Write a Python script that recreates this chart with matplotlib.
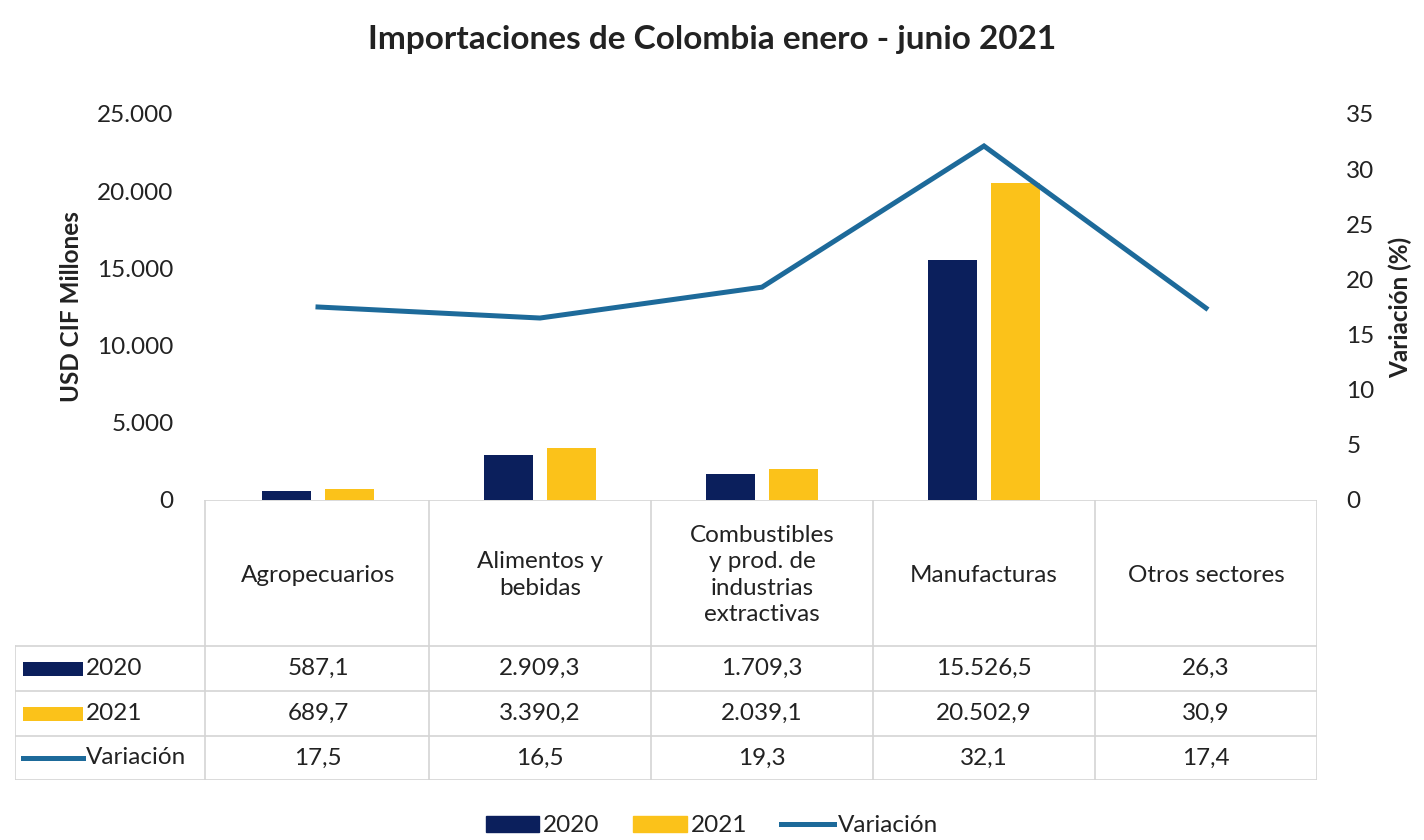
import numpy as np
import matplotlib.pyplot as plt
from matplotlib.patches import Patch, Rectangle
from matplotlib.lines import Line2D
from matplotlib.ticker import FuncFormatter, MultipleLocator

plt.rcParams['font.family'] = ['Lato', 'DejaVu Sans']

# data
sectores = ['Agropecuarios', 'Alimentos y\nbebidas',
            'Combustibles\ny prod. de\nindustrias\nextractivas',
            'Manufacturas', 'Otros sectores']
imp_2020 = [587.1, 2909.3, 1709.3, 15526.5, 26.3]
imp_2021 = [689.7, 3390.2, 2039.1, 20502.9, 30.9]
variacion = [17.5, 16.5, 19.3, 32.1, 17.4]

c2020 = '#0B1F5C'
c2021 = '#FBC21A'
cvar = '#1D6A9A'
grid_c = '#D4D4D4'
txt_c = '#222222'
fs = 17.5


def es_num(v, dec=1):
    s = f'{v:,.{dec}f}'
    return s.replace(',', '#').replace('.', ',').replace('#', '.')


W, H = 1424, 840
fig = plt.figure(figsize=(W / 100, H / 100), dpi=100)


def fx(px):
    return px / W


def fy(py):
    return 1 - py / H


# pixel layout
left, right, top, base = 207, 1317, 114, 500
ax = fig.add_axes([fx(left), fy(base), fx(right - left), (base - top) / H])
x = np.arange(len(sectores))
bw = 0.22
ax.bar(x - 0.142, imp_2020, bw, color=c2020, zorder=2)
ax.bar(x + 0.142, imp_2021, bw, color=c2021, zorder=2)
ax.set_xlim(-0.5, len(sectores) - 0.5)
ax.set_ylim(0, 25000)
ax.yaxis.set_major_locator(MultipleLocator(5000))
ax.yaxis.set_major_formatter(FuncFormatter(lambda v, p: es_num(v, 0)))
ax.set_xticks([])
for s in ['top', 'right', 'left', 'bottom']:
    ax.spines[s].set_visible(False)
ax.tick_params(axis='y', length=0, labelsize=fs, labelcolor=txt_c, pad=24)
ax.set_ylabel('USD CIF Millones', fontsize=fs, fontweight='bold', color=txt_c, labelpad=10)

ax2 = ax.twinx()
ax2.plot(x, variacion, color=cvar, lw=3.6, solid_joinstyle='miter', zorder=3)
ax2.set_ylim(0, 35)
ax2.yaxis.set_major_locator(MultipleLocator(5))
for s in ['top', 'right', 'left', 'bottom']:
    ax2.spines[s].set_visible(False)
ax2.tick_params(axis='y', length=0, labelsize=fs, labelcolor=txt_c, pad=21)
ax2.set_ylabel('Variación (%)', fontsize=fs, fontweight='bold', color=txt_c, labelpad=10)

# data table below the plot, x in category units, y in pixels
tleft = 15
cw = (right - left) / len(sectores)
tab = fig.add_axes([fx(tleft), fy(780), fx(right - tleft), (780 - base) / H])
tab.set_xlim(-0.5 - (left - tleft) / cw, len(sectores) - 0.5)
tab.set_ylim(780, base)
tab.axis('off')
x0 = -0.5 - (left - tleft) / cw
hdr_col = -0.5 - (left - 205) / cw
rows = [646, 691, 736, 780]
lk = dict(color=grid_c, lw=1.2)
tab.plot([hdr_col, len(sectores) - 0.5], [base, base], **lk)
for r in rows:
    tab.plot([x0, len(sectores) - 0.5], [r, r], **lk)
tab.plot([x0, x0], [rows[0], rows[-1]], **lk)
for i in range(len(sectores) + 1):
    xx = hdr_col if i == 0 else i - 0.5
    tab.plot([xx, xx], [base, rows[-1]], **lk)

for i, name in enumerate(sectores):
    tab.text(i, (base + rows[0]) / 2 + 2, name, ha='center', va='center',
             fontsize=fs, color=txt_c, linespacing=1.32)

series = [('2020', imp_2020), ('2021', imp_2021), ('Variación', variacion)]
key_w = (83 - 23) / cw
kx = x0 + (23 - tleft) / cw
for j, (lab, vals) in enumerate(series):
    yc = (rows[j] + rows[j + 1]) / 2
    for i, v in enumerate(vals):
        tab.text(i, yc, es_num(v), ha='center', va='center', fontsize=fs, color=txt_c)
    if j < 2:
        tab.add_patch(Rectangle((kx, yc - 7), key_w, 14,
                                color=[c2020, c2021][j], lw=0))
    else:
        tab.plot([kx, kx + key_w], [yc, yc], color=cvar, lw=3.6)
    tab.text(kx + key_w + 0.015, yc, lab, ha='left', va='center', fontsize=fs, color=txt_c)

handles = [Patch(color=c2020, label='2020'), Patch(color=c2021, label='2021'),
           Line2D([], [], color=cvar, lw=3.6, label='Variación')]
fig.legend(handles=handles, loc='center', bbox_to_anchor=(0.5, fy(826)), ncol=3,
           frameon=False, fontsize=fs, handlelength=2.2, handleheight=0.6,
           handletextpad=0.15, columnspacing=1.4, labelcolor=txt_c)

fig.text(0.5, fy(40), 'Importaciones de Colombia enero - junio 2021',
         ha='center', va='center', fontsize=24, fontweight='bold', color=txt_c)

fig.savefig('out.png', dpi=100, facecolor='white')
